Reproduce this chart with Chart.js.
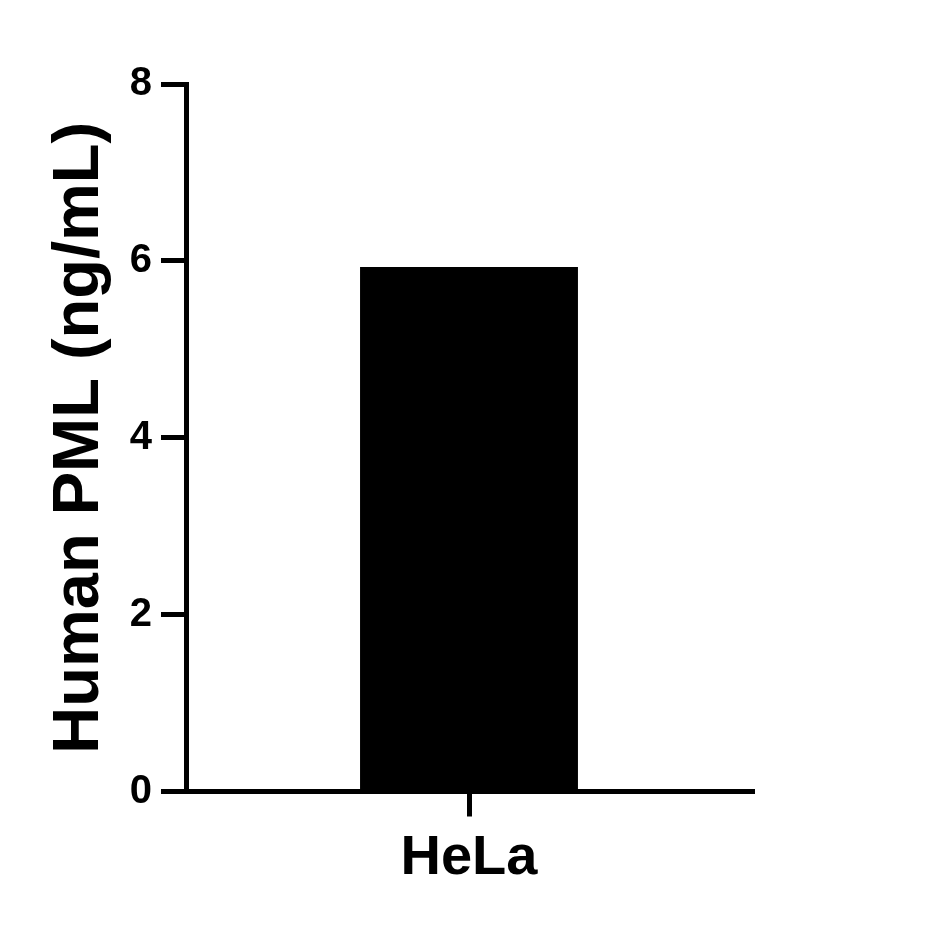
<!DOCTYPE html>
<html>
<head>
<meta charset="utf-8">
<script src="https://cdn.jsdelivr.net/npm/chart.js@4"></script>
<style>
  body { margin: 0; background: #fff; }
  #wrap { width: 931px; height: 927px; }
</style>
</head>
<body>
<div id="wrap"><canvas id="myChart" width="931" height="927"></canvas></div>
<script>
// values
var categories = ['HeLa'];
var pmlValues = [5.93];
var yTickValues = [0, 2, 4, 6, 8];
var yTitle = 'Human PML (ng/mL)';

var fontName = '"Liberation Sans", Arial, sans-serif';

window.addEventListener('load', () => {
  var ctx = document.getElementById('myChart').getContext('2d');
  var chart = new Chart(ctx, {
    type: 'bar',
    data: {
      labels: categories,
      datasets: [{
        data: pmlValues,
        backgroundColor: '#000',
        borderWidth: 0,
        categoryPercentage: 1,
        barPercentage: 0.385
      }]
    },
    options: {
      responsive: false,
      devicePixelRatio: 1,
      animation: false,
      layout: { padding: { left: 0, top: 84, right: 179, bottom: 0 } },
      plugins: { legend: { display: false }, tooltip: { enabled: false } },
      scales: {
        x: {
          grid: { offset: false, drawOnChartArea: false, tickLength: 25, lineWidth: 5, color: '#000' },
          border: { width: 5, color: '#000' },
          ticks: { color: '#000', padding: 8, font: { family: fontName, size: 56, weight: 'bold' } },
          afterFit: (scale) => { scale.height = 135.5; }
        },
        y: {
          min: 0,
          max: 8,
          afterBuildTicks: (scale) => {
            scale.ticks = yTickValues.map(v => ({ value: v }));
          },
          grid: { drawOnChartArea: false, tickLength: 25, lineWidth: 5, color: '#000' },
          border: { width: 5, color: '#000' },
          ticks: { color: '#000', padding: 9, font: { family: fontName, size: 40, weight: 'bold' } },
          title: {
            display: true,
            text: yTitle,
            color: '#000',
            padding: { top: 41, bottom: 0 },
            font: { family: fontName, size: 65, weight: 'bold', lineHeight: 1.2 }
          },
          afterFit: (scale) => { scale.width = 186; }
        }
      }
    }
  });
});
</script>
</body>
</html>
